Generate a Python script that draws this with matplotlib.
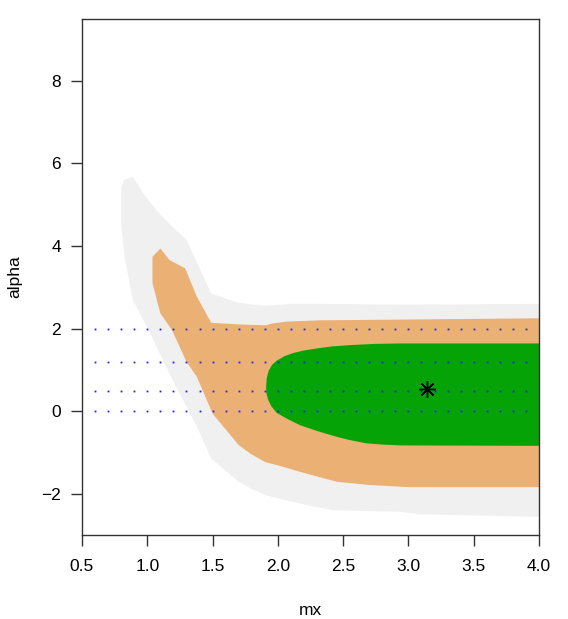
import matplotlib
matplotlib.use("Agg")
import matplotlib.pyplot as plt

plt.rcParams['font.family'] = ['Liberation Sans', 'DejaVu Sans']

# ---- data ----
# outer (light gray) region boundary
gray_x = [0.80, 0.82, 0.89, 0.97, 1.08, 1.19, 1.30, 1.49, 1.69, 1.90, 2.10, 2.30, 3.00, 4.00,
          4.00, 3.10, 2.94, 2.42, 2.17, 1.91, 1.79, 1.70, 1.49, 1.38, 1.17, 1.01, 0.89, 0.83, 0.80]
gray_y = [5.40, 5.60, 5.68, 5.27, 4.83, 4.47, 4.15, 2.85, 2.63, 2.55, 2.60, 2.60, 2.58, 2.60,
          -2.56, -2.50, -2.44, -2.40, -2.24, -2.04, -1.87, -1.71, -1.15, -0.38, 0.91, 1.96, 2.69, 3.66, 4.50]

# middle (orange) region boundary
orange_x = [1.04, 1.10, 1.17, 1.29, 1.38, 1.49, 1.71, 1.91, 1.95, 2.07, 2.32, 3.00, 4.00,
            4.00, 3.00, 2.71, 2.45, 2.17, 2.02, 1.90, 1.79, 1.70, 1.50, 1.38, 1.30, 1.19, 1.10, 1.04]
orange_y = [3.74, 3.94, 3.66, 3.46, 2.77, 2.14, 2.10, 2.08, 2.12, 2.17, 2.20, 2.22, 2.25,
            -1.84, -1.84, -1.79, -1.71, -1.47, -1.33, -1.23, -1.03, -0.82, -0.06, 0.83, 1.20, 1.96, 2.37, 3.10]

# inner (green) region boundary
green_x = [1.910, 1.915, 1.930, 1.955, 1.990, 2.050, 2.120, 2.200, 2.300, 2.420, 2.550, 2.750, 2.940, 4.00,
           4.00, 2.940, 2.800, 2.680, 2.550, 2.450, 2.300, 2.170, 2.080, 1.990, 1.950, 1.925, 1.912]
green_y = [0.59, 0.80, 0.98, 1.12, 1.22, 1.33, 1.41, 1.47, 1.52, 1.57, 1.60, 1.63, 1.64, 1.64,
           -0.84, -0.83, -0.81, -0.78, -0.70, -0.62, -0.48, -0.34, -0.20, -0.04, 0.12, 0.28, 0.44]

# dotted profile lines (alpha levels) and grid of mx values
alpha_levels = [0.0, 0.5, 1.2, 2.0]
mx_grid = [0.6, 0.7, 0.8, 0.9, 1.0, 1.1, 1.2, 1.3, 1.4, 1.5, 1.6, 1.7, 1.8, 1.9, 2.0, 2.1, 2.2,
           2.3, 2.4, 2.5, 2.6, 2.7, 2.8, 2.9, 3.0, 3.1, 3.2, 3.3, 3.4, 3.5, 3.6, 3.7, 3.8, 3.9]

# best estimate
best_mx = [3.14]
best_alpha = [0.53]

x_ticks = [0.5, 1.0, 1.5, 2.0, 2.5, 3.0, 3.5, 4.0]
y_ticks = [-2, 0, 2, 4, 6, 8]

# ---- plot ----
fig = plt.figure(figsize=(5.68, 6.19), dpi=100)
ax = fig.add_axes([82/568, 1-535/619, (539-82)/568, (535-19)/619])

ax.fill(gray_x, gray_y, color='#F0F0F0', lw=0)
ax.fill(orange_x, orange_y, color='#EBB074', lw=0)
ax.fill(green_x, green_y, color='#05A305', lw=0)

for a in alpha_levels:
    ax.plot(mx_grid, [a]*len(mx_grid), ls='none', marker='s', ms=1.3, color='#2020FF', mew=0)

ax.plot(best_mx, best_alpha, ls='none', marker=(8, 2, 0), ms=12, mew=1.0, color='black')

ax.set_xlim(0.5, 4.0)
ax.set_ylim(-3, 9.5)
ax.set_xticks(x_ticks)
ax.set_xticklabels([f"{v:.1f}" for v in x_ticks])
ax.set_yticks(y_ticks)
ax.set_yticklabels(["\u22122" if v < 0 else str(v) for v in y_ticks])
ax.tick_params(direction='out', length=8, width=1, labelsize=12.5, color='#333333')
ax.tick_params(axis='x', pad=9)
ax.tick_params(axis='y', pad=7)
for s in ax.spines.values():
    s.set_linewidth(1.0)
    s.set_color('#333333')

ax.set_xlabel('mx', fontsize=12.5, labelpad=21)
ax.set_ylabel('alpha', fontsize=12.5, labelpad=14)

fig.savefig('out.png', dpi=100)
